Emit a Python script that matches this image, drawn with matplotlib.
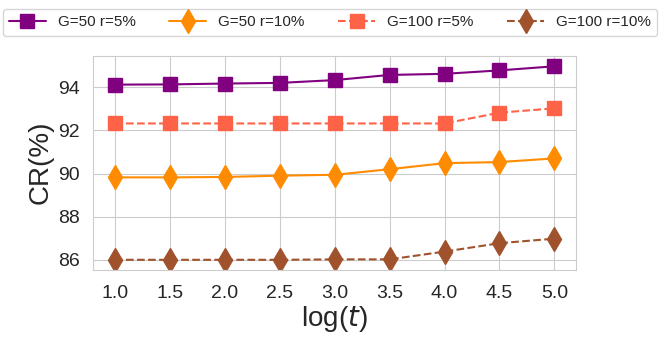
import matplotlib
matplotlib.use("Agg")
import matplotlib.pyplot as plt
import seaborn as sns

# data
log_t = [1.0, 1.5, 2.0, 2.5, 3.0, 3.5, 4.0, 4.5, 5.0]
g50_r5 = [94.12, 94.13, 94.17, 94.2, 94.33, 94.57, 94.62, 94.78, 94.97]
g50_r10 = [89.82, 89.82, 89.84, 89.9, 89.94, 90.2, 90.48, 90.53, 90.7]
g100_r5 = [92.32, 92.32, 92.32, 92.32, 92.32, 92.32, 92.32, 92.82, 93.02]
g100_r10 = [86.0, 86.0, 86.0, 86.0, 86.02, 86.02, 86.38, 86.77, 86.98]
labels = ["G=50 r=5%", "G=50 r=10%", "G=100 r=5%", "G=100 r=10%"]

sns.set_style("whitegrid")
plt.rcParams['font.family'] = ['Liberation Sans', 'DejaVu Sans']

fig = plt.figure(figsize=(6.64, 3.39), dpi=100)
ax = fig.add_axes([0.14, 0.205, 0.728, 0.63])

ax.plot(log_t, g50_r5, color="purple", linestyle="-", marker="s", markersize=10, linewidth=1.5, label=labels[0])
ax.plot(log_t, g50_r10, color="darkorange", linestyle="-", marker="d", markersize=12, linewidth=1.5, label=labels[1])
ax.plot(log_t, g100_r5, color="tomato", linestyle="--", marker="s", markersize=10, linewidth=1.5, label=labels[2])
ax.plot(log_t, g100_r10, color="sienna", linestyle="--", marker="d", markersize=12, linewidth=1.5, label=labels[3])

ax.set_xlim(0.8, 5.2)
ax.set_ylim(85.55, 95.45)
ax.set_xticks(log_t)
ax.set_yticks([86, 88, 90, 92, 94])
ax.tick_params(axis="x", labelsize=14, pad=8)
ax.tick_params(axis="y", labelsize=14, pad=6)
ax.set_xlabel(r"log($t$)", fontsize=20, labelpad=1)
ax.set_ylabel("CR(%)", fontsize=20, labelpad=3)

fig.legend(loc="upper center", bbox_to_anchor=(0.497, 0.995), ncol=4, fontsize=11,
           frameon=True, handlelength=2.4, columnspacing=2.2)

fig.savefig("out.png", dpi=100)
